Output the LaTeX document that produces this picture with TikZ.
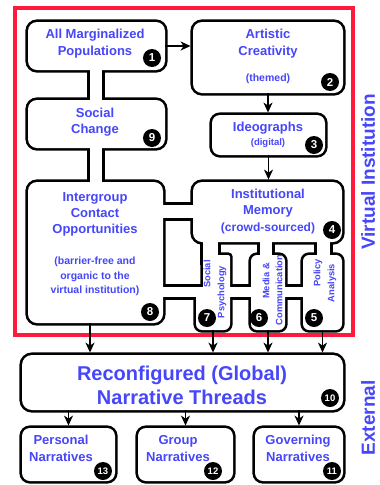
\documentclass[tikz,border=0pt]{standalone}
\usepackage{fontspec}
\setmainfont{Liberation Sans}
\usetikzlibrary{arrows.meta}
\definecolor{tblue}{RGB}{70,70,250}
\definecolor{vred}{RGB}{255,25,60}
\newcommand\pc[6]{\node[piece=#6pt, minimum width={(#4-#2)*1pt}, minimum height={(#5-#3)*1pt}] (#1) at ({(#2+#4)/2},{(#3+#5)/2}) {};}
\begin{document}
\begin{tikzpicture}[x=1pt,y=-1pt,
  piece/.style={rectangle, draw=black, line width=5.2pt, inner sep=0pt, outer sep=0pt, rounded corners=#1},
  lbl/.style={text=tblue, font=\fontsize{13}{16.5}\selectfont\bfseries, align=center, inner sep=0pt},
  small/.style={text=tblue, font=\fontsize{10.5}{14.5}\selectfont\bfseries, align=center, inner sep=0pt},
  coltxt/.style={text=tblue, font=\fontsize{9.3}{11}\selectfont\bfseries, rotate=90, inner sep=0pt},
  side/.style={text=tblue, font=\fontsize{19}{22}\selectfont\bfseries, rotate=90, inner sep=0pt},
  badge/.style={circle, fill=black, text=white, font=\fontsize{11.5}{11.5}\selectfont\bfseries, minimum size=18pt, inner sep=0pt},
  badgeb/.style={badge, font=\fontsize{9.5}{10}\selectfont\bfseries},
  arr/.style={-{Stealth[length=10pt,width=9pt,inset=3pt]}, line width=1.4pt, shorten >=2.4pt}]
\useasboundingbox (0,0) rectangle (380,485);
% red frame of the virtual institution
\draw[vred, line width=3.5pt] (15,8) rectangle (353,335);
% outlines (union of pieces)
\pc{b1}{28}{22}{165}{70}{9}
\pc{n19}{90}{65}{102}{105}{0}
\pc{b9}{28}{100}{165}{148}{9}
\pc{n98}{90}{143}{102}{187}{0}
\pc{b8}{28}{182}{163}{323}{9}
\pc{n84}{158}{205}{198}{218}{0}
\pc{b4}{193}{182}{342}{242}{9}
\pc{c7n}{203}{235}{218}{262}{0}
\pc{c7u}{203}{255}{230}{300}{2}
\pc{c7b}{196}{292}{230}{330}{6}
\pc{c6n}{260}{235}{272}{262}{0}
\pc{c6}{251}{255}{285}{330}{6}
\pc{c5n}{317}{235}{330}{262}{0}
\pc{c5}{303}{255}{342}{330}{6}
\pc{nh}{158}{287}{308}{297}{0}
\pc{b2}{193}{22}{343}{93}{9}
\pc{b3}{212}{115}{325}{155}{8}
\pc{b10}{22}{355}{343}{410}{10}
\pc{b13}{22}{428}{115}{481}{8}
\pc{b12}{138}{428}{233}{481}{8}
\pc{b11}{255}{428}{343}{481}{8}
% white interiors
\foreach \n/\r in {b1/9,n19/0,b9/9,n98/0,b8/9,n84/0,b4/9,c7n/0,c7u/2,c7b/6,c6n/0,c6/6,c5n/0,c5/6,nh/0,b2/9,b3/8,b10/10,b13/8,b12/8,b11/8}
  {\fill[white, rounded corners=\r pt] (\n.south west) rectangle (\n.north east);}
% texts
\node[lbl] (t1) at (95,43.5) {All Marginalized\\Populations};
\node[lbl] (t2) at (268,43.5) {Artistic\\Creativity};
\node[small] (t2b) at (268,79) {(themed)};
\node[lbl] (t3) at (268,128) {Ideographs};
\node[small, font=\fontsize{9.5}{12}\selectfont\bfseries] (t3b) at (268,143) {(digital)};
\node[lbl] (t9) at (95,122) {Social\\Change};
\node[lbl, font=\fontsize{13}{16}\selectfont\bfseries] (t8) at (95,214) {Intergroup\\Contact\\Opportunities};
\node[small] (t8b) at (95,276.5) {(barrier-free and\\organic to the\\virtual institution)};
\node[lbl] (t4) at (268,211.5) {Institutional\\Memory\\{\fontsize{12}{16}\selectfont(crowd-sourced)}};
\node[coltxt] (t7a) at (207,274) {Social};
\node[coltxt] (t7b) at (222,292) {Psychology};
\node[coltxt] (t6a) at (266,281) {Media \&};
\node[coltxt] (t6b) at (279,290) {Communication};
\node[coltxt] (t5a) at (318,273) {Policy};
\node[coltxt] (t5b) at (332,283) {Analysis};
\node[lbl, font=\fontsize{20}{24}\selectfont\bfseries] (t10) at (182,385) {Reconfigured (Global)\\Narrative Threads};
\node[lbl] (t13) at (61,448.5) {Personal\\Narratives};
\node[lbl] (t12) at (178,448.5) {Group\\Narratives};
\node[lbl] (t11) at (298,448.5) {Governing\\Narratives};
\node[side] (vi) at (368,172) {Virtual Institution};
\node[side] (ex) at (368,418) {External};
% badges
\node[badge] (k1) at (152,58) {1};
\node[badge] (k2) at (330,82) {2};
\node[badge] (k3) at (314,145) {3};
\node[badge] (k4) at (332,230) {4};
\node[badge] (k5) at (314,318) {5};
\node[badge] (k6) at (259,318) {6};
\node[badge] (k7) at (207,318) {7};
\node[badge] (k8) at (150,312) {8};
\node[badge] (k9) at (152,138) {9};
\node[badgeb] (k10) at (330,398) {10};
\node[badgeb] (k11) at (332,471) {11};
\node[badgeb] (k12) at (213,471) {12};
\node[badgeb] (k13) at (103,471) {13};
% connectors
\coordinate (a8) at (90,323);
\draw[arr] (b1.east) -- (b1.east -| b2.west);
\draw[arr] (b2.south) -- (b2.south |- b3.north);
\draw[arr] (b3.south) -- (b3.south |- b4.north);
\draw[arr] (a8) -- (a8 |- b10.north);
\draw[arr] (c7b.south) -- (c7b.south |- b10.north);
\draw[arr] (c6.south) -- (c6.south |- b10.north);
\draw[arr] (c5.south) -- (c5.south |- b10.north);
\draw[arr] (b13.north |- b10.south) -- (b13.north);
\draw[arr] (b12.north |- b10.south) -- (b12.north);
\draw[arr] (b11.north |- b10.south) -- (b11.north);
\end{tikzpicture}
\end{document}
